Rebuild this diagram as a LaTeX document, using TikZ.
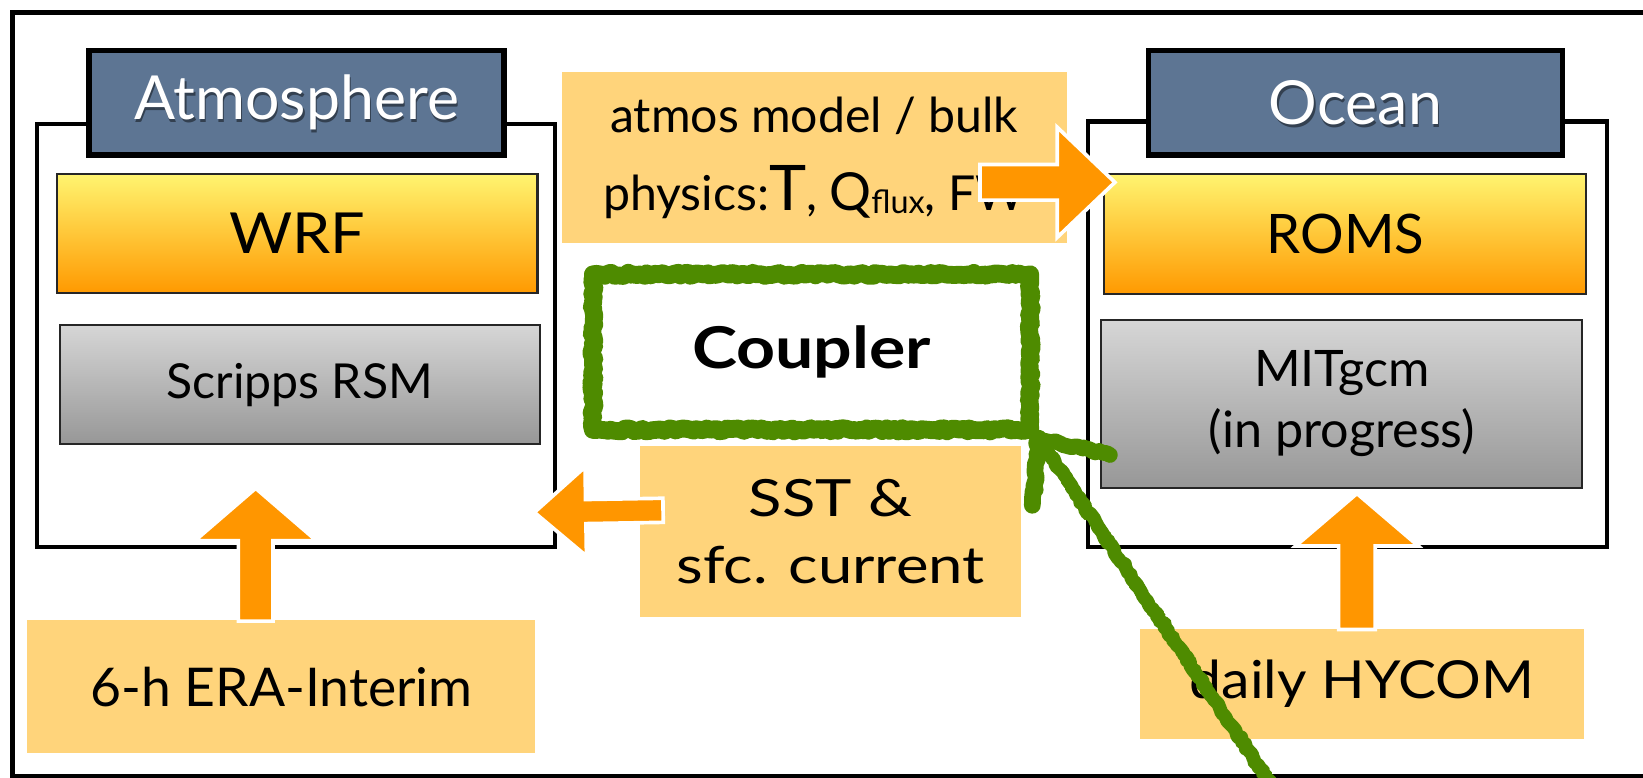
\documentclass[tikz,border=0pt]{standalone}
\usepackage{fontspec}
\setmainfont{Lato}
\usetikzlibrary{calc,decorations.pathmorphing}
\definecolor{slate}{HTML}{5D7593}
\definecolor{lorange}{HTML}{FFD47B}
\definecolor{aorange}{HTML}{FF9600}
\definecolor{ytop}{HTML}{FFF470}
\definecolor{ybot}{HTML}{FF9900}
\definecolor{gtop}{HTML}{D6D6D6}
\definecolor{gbot}{HTML}{979797}
\definecolor{crayon}{HTML}{4E8B00}
\newcommand\fs[1]{\fontsize{#1}{#1}\selectfont}
\newcommand\wide[2]{\scalebox{#1}[1]{#2}}
\newcommand\blockarrow[5]{%
  \coordinate (babase) at ($(#2)!#5!(#1)$);
  \path[blockarrow] ($(#1)!#3!90:(#2)$) -- ($(babase)!#3!-90:(#1)$) -- ($(babase)!#4!-90:(#1)$) -- (#2) -- ($(babase)!#4!90:(#1)$) -- ($(babase)!#3!90:(#1)$) -- ($(#1)!#3!-90:(#2)$) -- cycle;}
\begin{document}
\begin{tikzpicture}[x=1pt,y=-1pt,
  frame/.style={draw=black,line width=4.5pt},
  compbox/.style={draw=black,line width=4pt,fill=white},
  titlebox/.style={draw=black,line width=5pt,fill=slate,inner sep=0pt},
  titletext/.style={text=white,font=\fs{58}},
  modelbox/.style={draw=black!85,line width=2pt,inner sep=0pt},
  yellowbox/.style={modelbox,top color=ytop,bottom color=ybot},
  graybox/.style={modelbox,top color=gtop,bottom color=gbot},
  labelbox/.style={fill=lorange,inner sep=0pt},
  blockarrow/.style={fill=aorange,draw=white,line width=3.5pt,line join=miter},
  crayonline/.style={draw=crayon,line cap=round,line join=round,decorate,decoration={random steps,segment length=3pt,amplitude=1.5pt}},
  crayonrough/.style={draw=crayon,line cap=round,line join=round,decorate,decoration={random steps,segment length=2pt,amplitude=4pt}}
]
\useasboundingbox (0,0) rectangle (1568,742);
\clip (0,0) rectangle (1568,742);
% outer frame
\draw[frame] (12,12) rectangle (1620,741);
% component boxes
\node[compbox,minimum width=495,minimum height=404] (atm) at (282.5,320) {};
\node[compbox,minimum width=496,minimum height=406] (ocn) at (1286,319) {};
% titles
\node[titlebox,minimum width=396,minimum height=100] (atmtitle) at (283,98) {};
\node[titletext,text=black,opacity=0.45] at ($(atmtitle)+(1.5,2.5)$) {Atmosphere};
\node[titletext] at (atmtitle) {Atmosphere};
\node[titlebox,minimum width=395,minimum height=100] (ocntitle) at (1293.5,98) {};
\node[titletext,text=black,opacity=0.45] at ($(ocntitle)+(1.5,2.5)$) {Ocean};
\node[titletext] at (ocntitle) {Ocean};
% model boxes
\node[yellowbox,minimum width=459,minimum height=114,font=\fs{54}] (wrf) at (283.5,223) {\wide{1.08}{WRF}};
\node[graybox,minimum width=458,minimum height=114,font=\fs{46}] (rsm) at (286,367) {Scripps RSM};
\node[yellowbox,minimum width=460,minimum height=115,font=\fs{52}] (roms) at (1284,223.5) {ROMS};
\node[graybox,minimum width=459,minimum height=161,align=center,font=\fontsize{48}{58}\selectfont] (mit) at (1280.5,385.5) {MITgcm\\(in progress)};
% label boxes
\node[labelbox,minimum width=482,minimum height=163,align=center,font=\fontsize{46}{74}\selectfont] (amb) at (777,150.5) {atmos model / bulk\\physics:{\fs{60}T}, {\fs{50}Q}\raisebox{-3pt}{\fs{31}flux}, FW};
\node[labelbox,minimum width=363,minimum height=163,align=center,font=\fontsize{49}{64}\selectfont] (sst) at (792.5,507.5) {\wide{1.2}{SST \&}\\\wide{1.2}{sfc. current}};
\node[labelbox,minimum width=485,minimum height=127,font=\fs{51}] (era) at (268.5,655.5) {6-h ERA-Interim};
\node[labelbox,minimum width=424,minimum height=105,font=\fs{50}] (hycom) at (1300,652.5) {\wide{1.09}{daily HYCOM}};
% block arrows
\blockarrow{$(era.north)+(-24.5,1)$}{$(atm.south)+(-38.5,-58)$}{16.5pt}{58pt}{50pt}
\blockarrow{$(hycom.north)+(-5,1)$}{$(ocn.south)+(9,-53)$}{17.5pt}{58.5pt}{50pt}
\blockarrow{$(sst.west)+(22,-20.5)$}{$(atm.south east)+(-22,-35)$}{11.5pt}{42.5pt}{49pt}
\blockarrow{$(amb.east)+(-83,23.5)$}{$(roms.west)+(11,-49.5)$}{17pt}{52.5pt}{55pt}
% coupler
\node[minimum width=417,minimum height=148,inner sep=0pt,font=\bfseries\fs{55}] (coupler) at (774.5,336) {\wide{1.18}{Coupler}};
\pgfmathsetseed{7}
\draw[crayonline,line width=17pt] (coupler.north west) rectangle (coupler.south east);
\draw[crayonrough,line width=7pt] (coupler.north west) rectangle (coupler.south east);
% crayon arrow pointing at the coupler
\coordinate (gtail) at (1214,750);
\coordinate (gtip) at ($(coupler.south east)+(8,8)$);
\draw[crayonline,line width=13pt] (gtail) -- (gtip);
\draw[crayonrough,line width=6pt] (gtail) -- (gtip);
\draw[crayonline,line width=16pt] (gtip) -- ++(-6,64);
\draw[crayonline,line width=15pt] (gtip) -- ++(68,16);
\end{tikzpicture}
\end{document}
